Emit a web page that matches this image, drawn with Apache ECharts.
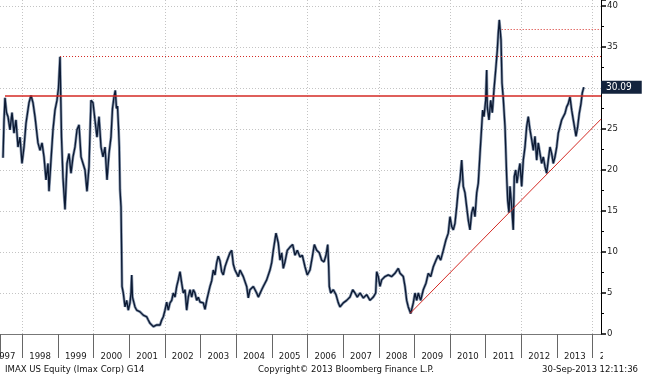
<!DOCTYPE html>
<html>
<head>
<meta charset="utf-8">
<script src="https://cdn.jsdelivr.net/npm/echarts@6/dist/echarts.min.js"></script>
<style>
html,body{margin:0;padding:0;background:#fff;}
#c{width:645px;height:376px;}
</style>
</head>
<body>
<div id="c"></div>
<script>
// decimal-year dates of the price observations
const dates = [
1997.459,1997.487,1997.515,1997.557,1997.599,1997.655,1997.711,1997.767,1997.823,1997.879,1997.936,1997.992,
1998.048,1998.104,1998.188,1998.244,1998.300,1998.356,1998.440,1998.497,1998.553,1998.609,1998.665,1998.721,1998.749,1998.805,1998.861,1998.917,1998.973,
1999.015,1999.058,1999.100,1999.142,1999.198,1999.254,1999.310,1999.366,1999.422,1999.478,1999.534,1999.591,1999.647,1999.703,1999.759,1999.815,1999.871,1999.927,1999.983,
2000.039,2000.095,2000.152,2000.208,2000.264,2000.320,2000.376,2000.432,2000.488,2000.530,2000.572,2000.609,2000.642,2000.670,2000.698,2000.721,2000.741,2000.769,2000.783,2000.797,2000.833,2000.881,2000.928,2000.973,
2001.021,2001.049,2001.069,2001.091,2001.114,2001.161,2001.209,2001.254,2001.302,2001.349,2001.394,2001.442,2001.489,2001.534,2001.582,2001.630,2001.675,2001.722,2001.770,2001.815,2001.863,2001.910,2001.955,
2002.003,2002.050,2002.095,2002.143,2002.191,2002.236,2002.283,2002.331,2002.376,2002.424,2002.471,2002.516,2002.564,2002.611,2002.656,2002.704,2002.752,2002.797,2002.844,2002.892,2002.937,2002.985,
2003.032,2003.077,2003.125,2003.172,2003.217,2003.265,2003.313,2003.358,2003.405,2003.453,2003.498,2003.546,2003.593,2003.638,2003.686,2003.733,2003.778,2003.826,2003.874,2003.919,2003.966,
2004.014,2004.059,2004.107,2004.199,2004.294,2004.339,2004.387,2004.480,2004.575,2004.620,2004.715,2004.760,2004.855,2004.948,2004.996,
2005.041,2005.116,2005.181,2005.229,2005.276,2005.321,2005.369,2005.433,2005.509,2005.585,2005.649,2005.714,2005.790,2005.854,2005.930,2005.994,
2006.070,2006.135,2006.191,2006.258,2006.331,2006.398,2006.463,2006.519,2006.567,2006.595,2006.611,2006.651,2006.724,2006.799,2006.864,2006.912,
2007.004,2007.099,2007.192,2007.268,2007.332,2007.397,2007.473,2007.565,2007.660,2007.753,2007.846,2007.913,2007.941,2007.986,
2008.034,2008.081,2008.174,2008.266,2008.362,2008.454,2008.547,2008.595,2008.687,2008.735,2008.782,2008.827,2008.895,2008.968,
2009.015,2009.063,2009.108,2009.175,2009.248,2009.324,2009.388,2009.456,2009.529,2009.604,2009.669,2009.736,2009.809,2009.885,2009.949,2009.997,
2010.045,2010.090,2010.137,2010.185,2010.230,2010.278,2010.325,2010.370,2010.418,2010.465,2010.510,2010.558,2010.606,2010.651,2010.698,2010.746,2010.791,2010.839,2010.886,2010.914,2010.951,2010.998,
2011.026,2011.043,2011.091,2011.139,2011.184,2011.231,2011.279,2011.324,2011.352,2011.380,2011.428,2011.456,2011.492,2011.540,2011.587,2011.616,2011.652,2011.680,2011.728,2011.772,2011.800,2011.840,2011.876,2011.913,2011.960,
2012.008,2012.053,2012.101,2012.148,2012.193,2012.241,2012.289,2012.334,2012.381,2012.429,2012.474,2012.522,2012.569,2012.614,2012.662,2012.709,2012.754,2012.802,2012.850,2012.895,2012.942,2012.990,
2013.035,2013.083,2013.130,2013.175,2013.223,2013.270,2013.315,2013.363,2013.411,2013.456,2013.503,2013.532,2013.579,2013.624,2013.672,2013.708,2013.750
];
// IMAX prices (USD)
const prices = [
21.5,26,28.8,27,26.5,24.9,27,24.5,26.1,22.8,24,20.8,
22.8,25.7,28.2,29.1,28.2,26.5,23.3,22.4,23.3,21.6,18.8,20.8,17.4,21.2,24.9,27.3,28.5,
30,33.8,24,19,15.2,20.8,22,19.6,21.6,22.8,24.9,25.5,21.6,20.8,20,17.4,20.4,28.5,28.2,
26.1,24,26.5,22.8,21.6,22.8,18.8,22,24,27.5,28.9,29.7,27.5,27.8,25.3,22.8,17.6,15.5,11,5.8,5,3.3,4.1,2.9,
3.8,5,7.2,4.5,4.1,3.3,2.9,2.7,2.7,2.5,2.3,2.1,2.1,1.7,1.3,1.1,0.9,0.7,1.1,1.3,1.1,1.7,2.1,
2.9,3.9,2.9,3.8,4.1,5,4.5,5.8,6.6,7.6,6.2,5,5.4,2.9,4.5,5.4,4.5,5.4,5,4.1,4.5,3.9,
4.1,3.8,3.0,4.1,4.3,5.8,6.5,7.8,7.2,8.7,9.5,8.9,7.6,7.2,8.2,8.8,8.9,9.9,10.2,8.5,7.8,
7.8,7.0,7.8,7,5.8,4.4,5.4,5.8,5,4.5,5.4,5.8,6.6,7.8,8.7,
10.2,12.3,11.1,9,9.9,8,8.8,10.2,10.6,10.9,9.6,10.2,9.4,9.6,8.2,7.2,
7.8,9.4,10.9,10.2,9.9,9,8.8,9.6,10.9,8.2,5.8,5,5.4,4.8,3.8,3.3,
3.8,4.1,4.5,5.4,5,4.5,5,4.4,4.8,4.1,4.5,5,7.6,7,
5.8,6.6,7,7.2,7,7.4,8,7.4,7,5.8,4.1,3.3,2.5,3.8,
5,4.1,5,4.1,5.4,6.2,7.4,7,8.2,9,9.6,9,10.2,11.5,12.3,14.3,
13.1,12.7,13.5,15.5,17.6,18.8,21.2,18,17.2,15.5,13.9,12.7,14.8,15.5,14.3,17.2,18.4,22,25.3,27.3,26.5,28.5,
32.2,27.7,26.1,28.5,27,29.8,32.2,34.6,36.7,38.3,35.9,30.6,28.7,25.3,19.2,16.3,14.8,18,15.5,12.7,19.2,20,18.4,19.6,20.8,
18,21.2,22.8,25.3,26.5,24.9,23.7,22.4,24.1,21.2,23.3,22,20.8,21.6,20.4,19.6,21.2,22.8,22,20.8,21.6,22.8,
24.5,25.3,26.1,26.5,26.9,27.7,28.1,28.9,27.3,26.1,24.9,24.1,25.3,26.9,28.1,29.4,30.09
];
// visible date range (decimal years) and price range
const xRange = [1997.3745, 2014.233];
const yRange = [0, 40.73];
const yTicks = [0, 5, 10, 15, 20, 25, 30, 35, 40];
// annotation lines drawn on the chart: [date, price] end points
const resistanceLine = [[1997.515, 29.05], [2014.233, 29.05]];
const high1999Line = [[1999.058, 33.82], [2014.233, 33.82]];
const high2011Line = [[2011.447, 37.15], [2014.233, 37.15]];
const trendLine = [[2008.875, 2.5], [2014.233, 26.2]];

const priceData = dates.map((d, i) => [d, prices[i]]);
const lastPrice = prices[prices.length - 1];
const FONT = '"DejaVu Sans Condensed", "DejaVu Sans", sans-serif';
const red = '#d42a24';
const dotted = { color: '#c4c4c4', type: [1, 2], width: 1 };
const seg = (pts, style) => [{ coord: pts[0], lineStyle: style }, { coord: pts[1] }];
const labelFont = { fontSize: 9.5, fontFamily: FONT, color: '#1a1a1a' };

const chart = echarts.init(document.getElementById('c'), null, { renderer: 'canvas' });
chart.setOption({
  animation: false,
  backgroundColor: '#ffffff',
  grid: { left: 0, right: 44, top: 0, bottom: 42, containLabel: false, outerBoundsMode: 'none' },
  xAxis: [
    { type: 'value', min: xRange[0], max: xRange[1], minInterval: 1, maxInterval: 1,
      position: 'bottom', offset: 4,
      axisLine: { show: true, lineStyle: { color: '#777', width: 1 } },
      axisTick: { show: true, length: 24, lineStyle: { color: '#666', width: 1 } },
      axisLabel: { show: true, showMinLabel: true, showMaxLabel: false, margin: 14,
        fontSize: 9.5, fontFamily: FONT, color: '#1a1a1a', align: 'center',
        rich: {
          y: Object.assign({ padding: [0, 0, 0, 35.65] }, labelFont),
          m: Object.assign({ padding: [0, 0, 0, 9.2] }, labelFont)
        },
        formatter: v => (v === xRange[0] ? '{m|' + Math.floor(v) + '}'
          : (Math.round(v) === v ? '{y|' + v + '}' : '')) },
      splitLine: { show: false } },
    { type: 'value', min: xRange[0], max: xRange[1], minInterval: 2, maxInterval: 2,
      axisLine: { show: false }, axisTick: { show: false }, axisLabel: { show: false },
      splitLine: { show: true, showMinLine: false, showMaxLine: false, lineStyle: dotted } }
  ],
  yAxis: {
    type: 'value', position: 'right', min: yRange[0], max: yRange[1], interval: 5,
    axisLine: { show: true, lineStyle: { color: '#000', width: 1 } },
    axisTick: { show: true, length: 5, lineStyle: { color: '#000', width: 1.5 } },
    minorTick: { show: true, splitNumber: 2, length: 3, lineStyle: { color: '#000', width: 1 } },
    axisLabel: { margin: 6, fontSize: 9.5, fontFamily: FONT, color: '#1a1a1a', showMaxLabel: false,
      formatter: v => (yTicks.indexOf(v) >= 0 ? String(v) : '') },
    splitLine: { show: true, showMaxLine: false, lineStyle: dotted }
  },
  series: [
    { type: 'line', data: priceData, showSymbol: false, z: 3,
      lineStyle: { color: '#8d9cb2', width: 2.8 } },
    { type: 'line', data: priceData, showSymbol: false, z: 4,
      lineStyle: { color: '#0c1a34', width: 1.35 },
      markLine: { silent: true, symbol: 'none', animation: false, label: { show: false },
        data: [
          seg(resistanceLine, { color: red, width: 1.6, type: 'solid' }),
          seg(high1999Line, { color: red, width: 1, type: [1, 2] }),
          seg(high2011Line, { color: red, width: 1, type: [1, 2] }),
          seg(trendLine, { color: red, width: 1, type: 'solid' }),
          { yAxis: lastPrice, lineStyle: { color: 'rgba(0,0,0,0)', width: 1 },
            label: { show: true, position: 'end', distance: 0, formatter: () => lastPrice.toFixed(2),
              backgroundColor: '#13233d', color: '#ffffff', fontSize: 10, fontFamily: FONT,
              padding: [2, 10, 1, 5] } }
        ] } }
  ],
  graphic: [
    { type: 'rect', z: 100, shape: { x: 603, y: 339, width: 42, height: 26 }, style: { fill: '#fff' } },
    { type: 'text', z: 101, left: 5, top: 365, style: { text: 'IMAX US Equity (Imax Corp) G14', font: '9.5px ' + FONT, fill: '#111' } },
    { type: 'text', z: 101, left: 258, top: 365, style: { text: 'Copyright\u00A9 2013 Bloomberg Finance L.P.', font: '9.5px ' + FONT, fill: '#111' } },
    { type: 'text', z: 101, right: 7, top: 365, style: { text: '30-Sep-2013 12:11:36', font: '9.5px ' + FONT, fill: '#111' } }
  ]
});
</script>
</body>
</html>
